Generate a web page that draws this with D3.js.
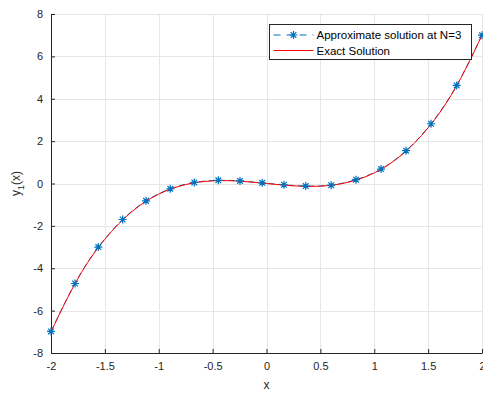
<!DOCTYPE html>
<html>
<head>
<meta charset="utf-8">
<script src="https://cdn.jsdelivr.net/npm/d3@7"></script>
<style>
  body { margin: 0; background: #fff; }
  text { font-family: "Liberation Sans", Arial, sans-serif; }
</style>
</head>
<body>
<div id="chart"></div>
<script>
// approximate solution (N=3), read off the markers
const approxX = [-2, -1.777, -1.561, -1.335, -1.118, -0.893, -0.67, -0.447, -0.246, -0.04,
  0.162, 0.364, 0.6, 0.831, 1.063, 1.295, 1.527, 1.765, 2];
const approxY = [-6.98, -4.72, -3.0, -1.7, -0.82, -0.25, 0.05, 0.15, 0.12, 0.03,
  -0.06, -0.12, -0.08, 0.18, 0.68, 1.55, 2.82, 4.63, 7.0];

// exact solution
const exactX = [-2, -1.75, -1.5, -1.25, -1, -0.75, -0.5, -0.25, 0, 0.25, 0.5, 0.75, 1, 1.25, 1.5, 1.75, 2];
const exactY = [-7, -4.48, -2.63, -1.33, -0.5, -0.05, 0.125, 0.11, 0, -0.11, -0.125, 0.05, 0.5, 1.33, 2.63, 4.48, 7];

const xTicks = [-2, -1.5, -1, -0.5, 0, 0.5, 1, 1.5, 2];
const yTicks = [-8, -6, -4, -2, 0, 2, 4, 6, 8];

const W = 483, H = 394;
const margin = { top: 14, right: 1, bottom: 41, left: 51 };
const blue = "#0072bd", red = "#ff0000";

const svg = d3.select("#chart").append("svg")
  .attr("width", W).attr("height", H);

const x = d3.scaleLinear().domain([-2, 2]).range([margin.left, W - margin.right]);
const y = d3.scaleLinear().domain([-8, 8]).range([H - margin.bottom, margin.top]);
const fmt = d => String(d); // plain hyphen minus, like the original

// grid
const grid = svg.append("g").attr("stroke", "#e6e6e6").attr("stroke-width", 1);
grid.selectAll(".gx").data(xTicks).enter().append("line")
  .attr("x1", d => Math.round(x(d)) + 0.5).attr("x2", d => Math.round(x(d)) + 0.5)
  .attr("y1", y(8)).attr("y2", y(-8));
grid.selectAll(".gy").data(yTicks).enter().append("line")
  .attr("y1", d => Math.round(y(d)) + 0.5).attr("y2", d => Math.round(y(d)) + 0.5)
  .attr("x1", x(-2)).attr("x2", x(2));

// axes
const xAxis = svg.append("g")
  .attr("transform", `translate(0,${y(-8)})`)
  .call(d3.axisBottom(x).tickValues(xTicks).tickSizeInner(-4).tickSizeOuter(0).tickFormat(fmt));
const yAxis = svg.append("g")
  .attr("transform", `translate(${x(-2)},0)`)
  .call(d3.axisLeft(y).tickValues(yTicks).tickSizeInner(-4).tickSizeOuter(0).tickFormat(fmt));
[xAxis, yAxis].forEach(a => {
  a.select(".domain").attr("stroke", "#262626");
  a.selectAll(".tick line").attr("stroke", "#262626");
  a.selectAll("text").attr("fill", "#262626").style("font-size", "11px")
    .style("font-family", "'Liberation Sans', Arial, sans-serif");
});
xAxis.selectAll("text").attr("y", 9);
yAxis.selectAll("text").attr("x", -8);

// axis labels
svg.append("text").attr("x", x(0)).attr("y", 389).attr("text-anchor", "middle")
  .attr("fill", "#262626").style("font-size", "12px").text("x");
const yl = svg.append("text").attr("transform", `translate(20,${y(0)}) rotate(-90)`)
  .attr("text-anchor", "middle").attr("fill", "#262626").style("font-size", "12px");
yl.append("tspan").text("y");
yl.append("tspan").attr("dy", 4).style("font-size", "9px").text("1");
yl.append("tspan").attr("dy", -4).text("(x)");

// approximate series (dashed + asterisks)
const approx = approxX.map((v, i) => [v, approxY[i]]);
const exact = exactX.map((v, i) => [v, exactY[i]]);

svg.append("path").datum(approx)
  .attr("fill", "none").attr("stroke", blue).attr("stroke-width", 1)
  .attr("stroke-dasharray", "6,4")
  .attr("d", d3.line().x(d => x(d[0])).y(d => y(d[1])).curve(d3.curveNatural));

function asterisk(g, r) {
  const s = r * Math.SQRT1_2;
  g.append("path")
    .attr("d", `M${-r},0H${r}M0,${-r}V${r}M${-s},${-s}L${s},${s}M${-s},${s}L${s},${-s}`)
    .attr("stroke", blue).attr("stroke-width", 1.2).attr("fill", "none");
}

// exact curve
svg.append("path").datum(exact)
  .attr("fill", "none").attr("stroke", red).attr("stroke-width", 1)
  .attr("d", d3.line().x(d => x(d[0])).y(d => y(d[1])).curve(d3.curveNatural));

svg.append("g").selectAll("g").data(approx).enter().append("g")
  .attr("transform", d => `translate(${x(d[0])},${y(d[1])})`)
  .each(function () { asterisk(d3.select(this), 4); });

// legend
const lg = svg.append("g").attr("transform", "translate(269.5,24.5)");
lg.append("rect").attr("width", 202).attr("height", 35)
  .attr("fill", "#fff").attr("stroke", "#262626").attr("stroke-width", 1);
lg.append("line").attr("x1", 4).attr("x2", 44).attr("y1", 10.5).attr("y2", 10.5)
  .attr("stroke", blue).attr("stroke-dasharray", "7,6");
asterisk(lg.append("g").attr("transform", "translate(24,10.5)"), 4);
lg.append("line").attr("x1", 4).attr("x2", 44).attr("y1", 26).attr("y2", 26)
  .attr("stroke", red);
lg.append("text").attr("x", 47).attr("y", 14.5).attr("fill", "#000")
  .style("font-size", "11.5px").text("Approximate solution at N=3");
lg.append("text").attr("x", 47).attr("y", 30).attr("fill", "#000")
  .style("font-size", "11.5px").text("Exact Solution");
</script>
</body>
</html>
